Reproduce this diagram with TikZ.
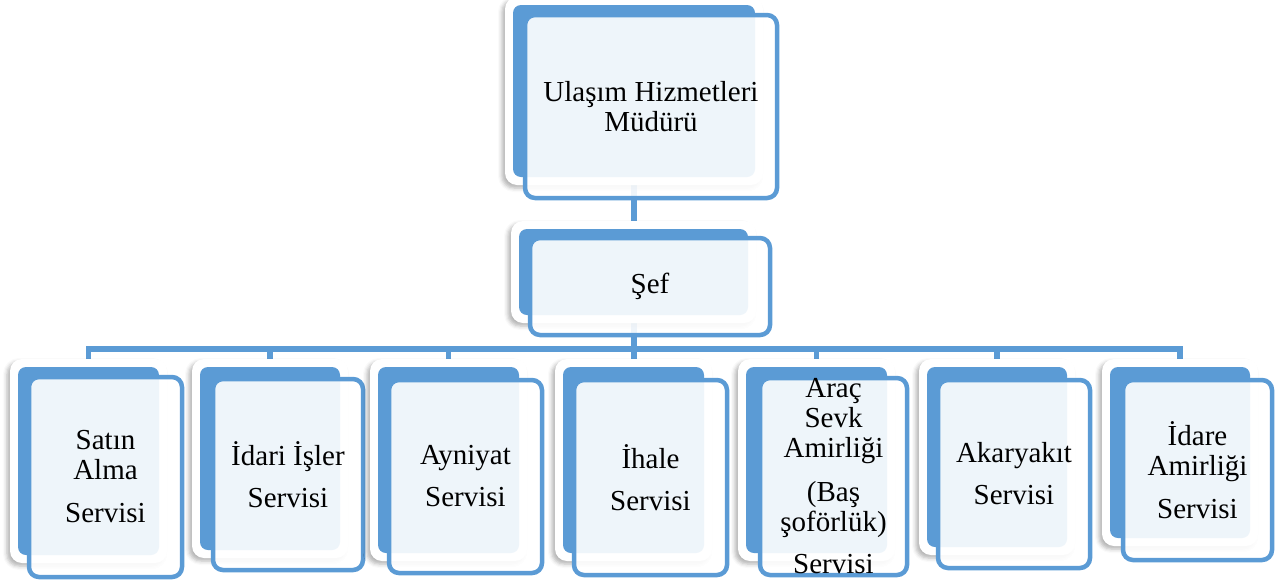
\documentclass[tikz,border=0pt]{standalone}
\usepackage{fontspec}
\setmainfont{Liberation Serif}
\usetikzlibrary{calc,fit,shadows.blur}
\definecolor{smblue}{HTML}{5B9BD5}
\tikzset{
  outerbox/.style={fill=white, rounded corners=12pt,
    blur shadow={shadow xshift=-3pt, shadow yshift=-3pt, shadow blur radius=4pt, shadow opacity=30}},
  backbox/.style={fill=smblue, draw=none, rounded corners=8pt, inner sep=0pt, outer sep=0pt},
  frontbox/.style={draw=smblue, line width=4.5pt, fill=white, fill opacity=0.9, rounded corners=10pt, inner sep=0pt, outer sep=0pt},
  txt/.style={align=center, inner sep=0pt, font=\fontsize{29}{30}\selectfont, text=black},
  conn/.style={draw=smblue, line width=5.5pt}
}
\newcommand\orgunit[6]{%
  \path[outerbox] ($(#2)+(-8,-8)$) rectangle ($(#3)+(8,8)$);
  \node[backbox, fit={(#2)(#3)}] (#1-b) {};
  \node[frontbox, fit={(#4)(#5)}] (#1) {};
  \node[txt] (#1-t) at (#1.center) {#6};
}
\begin{document}
\begin{tikzpicture}[x=1pt,y=-1pt]
\useasboundingbox (0,0) rectangle (1287,579);
% connector coordinates (back-box centres)
\coordinate (topS) at (634,177);
\coordinate (sefN) at (634,229);
\coordinate (sefS) at (634,315);
\coordinate (bus) at (634,349);
\foreach \x/\n in {88.5/c1,270/c2,448.5/c3,634/c4,816.5/c5,997/c6,1180/c7}{
  \coordinate (\n-top) at (\x,367);
}
\draw[conn] (topS) -- (sefN);
\foreach \n in {c1,c2,c3,c4,c5,c6,c7}{
  \draw[conn] (sefS) -- (bus) -| (\n-top);
}
% boxes
\orgunit{top}{513,5}{755,177}{525,15}{777,198}{Ulaşım Hizmetleri\\Müdürü}
\orgunit{sef}{519,229}{748,315}{530,238}{770,335}{Şef}
\orgunit{c1}{18,367}{159,555}{29,377}{182,577}{Satın\\Alma\\[13pt]Servisi}
\orgunit{c2}{200,367}{340,550}{213,379}{363,570}{İdari İşler\\[12pt]Servisi}
\orgunit{c3}{378,367}{519,553}{389,380}{542,573}{Ayniyat\\[12pt]Servisi}
\orgunit{c4}{563,367}{704,553}{574,380}{727,575}{İhale\\[12pt]Servisi}
\orgunit{c5}{746,367}{887,553}{760,378}{907,575}{Araç\\Sevk\\Amirliği\\[14pt](Baş\\şoförlük)\\[12pt]Servisi}
\orgunit{c6}{927,367}{1067,547}{938,380}{1090,568}{Akaryakıt\\[12pt]Servisi}
\orgunit{c7}{1110,367}{1250,538}{1123,380}{1272,560}{İdare\\Amirliği\\[13pt]Servisi}
\end{tikzpicture}
\end{document}
